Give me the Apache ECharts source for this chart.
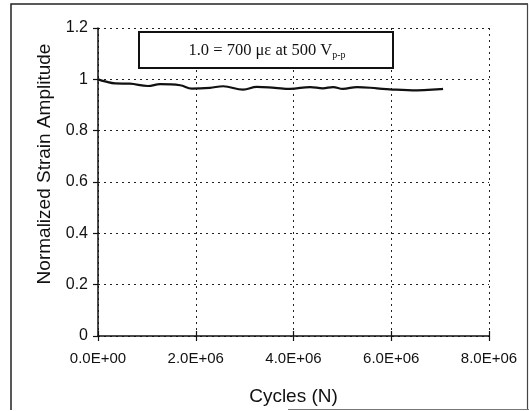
<!DOCTYPE html>
<html><head><meta charset="utf-8">
<script src="https://cdn.jsdelivr.net/npm/echarts@6/dist/echarts.min.js"></script>
<style>html,body{margin:0;padding:0;background:#fff}#c{width:529px;height:411px}</style>
</head><body><div id="c"></div>
<script>
var cycles = [0, 0.143e6, 0.35e6, 0.65e6, 1.02e6, 1.27e6, 1.68e6, 1.92e6, 2.29e6, 2.56e6, 2.97e6, 3.25e6, 3.62e6, 3.93e6, 4.34e6, 4.60e6, 4.81e6, 5.01e6, 5.30e6, 5.71e6, 5.97e6, 6.53e6, 7.00e6, 7.06e6];
var amplitude = [1.000, 0.992, 0.984, 0.983, 0.974, 0.981, 0.977, 0.964, 0.967, 0.973, 0.960, 0.971, 0.967, 0.963, 0.970, 0.965, 0.970, 0.963, 0.970, 0.965, 0.961, 0.957, 0.962, 0.963];
var xTicks = [0, 2e6, 4e6, 6e6, 8e6];
var yTicks = [0, 0.2, 0.4, 0.6, 0.8, 1, 1.2];
var noteText = '1.0 = 700 με at 500 V';
var noteSub = 'p-p';

function fmtE(v) {
  if (v === 0) return '0.0E+00';
  var e = Math.floor(Math.log10(Math.abs(v)) + 1e-9);
  var m = v / Math.pow(10, e);
  return m.toFixed(1) + 'E+' + (e < 10 ? '0' : '') + e;
}
var data = cycles.map(function (c, i) { return [c, amplitude[i]]; });
var grid = {left: 98, right: 40, top: 28, bottom: 74};
var chart = echarts.init(document.getElementById('c'));
var font = 'Liberation Sans, Arial, sans-serif';
var gridLine = {show: true, lineStyle: {color: '#222', width: 1, type: [2, 4]}};
chart.setOption({
  animation: false,
  grid: grid,
  xAxis: [{
    type: 'value', min: 0, max: 8e6, interval: 2e6,
    name: 'Cycles (N)', nameLocation: 'middle', nameGap: 51,
    nameTextStyle: {fontFamily: font, fontSize: 19, color: '#111'},
    axisLine: {show: true, lineStyle: {color: '#111', width: 1.5}},
    axisTick: {show: true, length: 5, lineStyle: {color: '#111', width: 1.2}},
    axisLabel: {fontFamily: font, fontSize: 15, color: '#111', margin: 15, formatter: fmtE, showMaxLabel: true},
    splitLine: gridLine
  }, {
    type: 'value', min: 0, max: 8e6, interval: 2e6, position: 'bottom',
    axisLine: {show: false},
    axisTick: {show: true, inside: true, length: 5, lineStyle: {color: '#111', width: 1.2}},
    axisLabel: {show: false}, splitLine: {show: false}
  }],
  yAxis: {
    type: 'value', min: 0, max: 1.2, interval: 0.2,
    name: 'Normalized Strain Amplitude', nameLocation: 'middle', nameGap: 44,
    nameTextStyle: {fontFamily: font, fontSize: 19, color: '#111', padding: [0, 0, 0, 36]},
    axisLine: {show: true, lineStyle: {color: '#111', width: 1.5}},
    axisTick: {show: true, length: 5, lineStyle: {color: '#111', width: 1.2}},
    axisLabel: {fontFamily: font, fontSize: 16, color: '#111', margin: 10},
    splitLine: gridLine
  },
  series: [{
    type: 'line', data: data, xAxisIndex: 0, smooth: 0.4, showSymbol: false,
    lineStyle: {color: '#111', width: 2.2}
  }],
  graphic: [
    {type: 'polyline', shape: {points: [[528, 4], [11, 4], [11, 410]]}, style: {stroke: '#222', lineWidth: 1.5, fill: null}},
    {type: 'line', shape: {x1: 527.5, y1: 4, x2: 527.5, y2: 410}, style: {stroke: '#444', lineWidth: 1.2}},
    {type: 'line', shape: {x1: 288, y1: 409.5, x2: 529, y2: 409.5}, style: {stroke: '#777', lineWidth: 1.2}},
    {type: 'rect', z: 100, shape: {x: 139, y: 32, width: 254, height: 36}, style: {fill: '#fff', stroke: '#111', lineWidth: 2}},
    {type: 'text', z: 101, x: 267, y: 51, style: {
      text: '{a|' + noteText + '}{s|' + noteSub + '}',
      align: 'center', verticalAlign: 'middle',
      rich: {
        a: {fontFamily: 'Liberation Serif, Times New Roman, serif', fontSize: 16.5, fill: '#111'},
        s: {fontFamily: 'Liberation Serif, Times New Roman, serif', fontSize: 10, fill: '#111', padding: [8, 0, 0, 0]}
      }
    }}
  ]
});
</script></body></html>
